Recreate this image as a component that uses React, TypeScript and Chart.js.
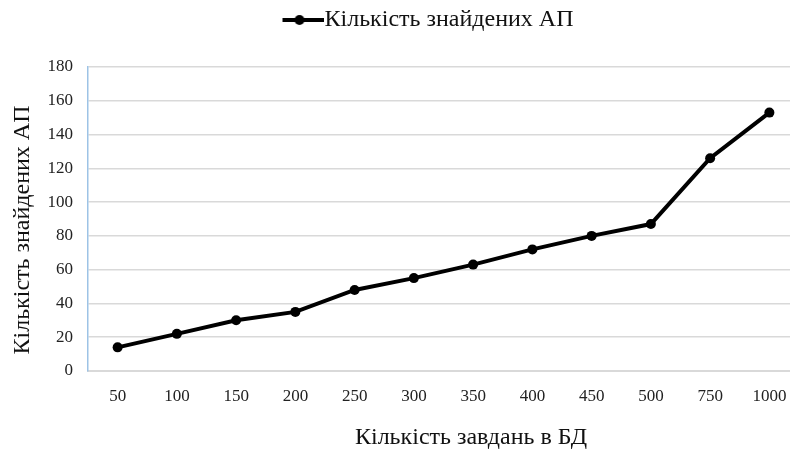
import React, { useEffect, useRef } from "react";
import { Chart, registerables } from "chart.js";

Chart.register(...registerables);

const categories = ["50", "100", "150", "200", "250", "300", "350", "400", "450", "500", "750", "1000"];
const foundValues = [14, 22, 30, 35, 48, 55, 63, 72, 80, 87, 126, 153];
const seriesLabel = "Кількість знайдених АП";
const xTitle = "Кількість завдань в БД";
const yTitle = "Кількість знайдених АП";

const FONT = "'Liberation Serif', 'Times New Roman', serif";

function makeLegendMarker(): HTMLCanvasElement {
  const c = document.createElement("canvas");
  const pad = 64;
  c.width = pad + 42;
  c.height = 12;
  const ctx = c.getContext("2d")!;
  ctx.strokeStyle = "#000";
  ctx.lineWidth = 4;
  ctx.beginPath();
  ctx.moveTo(pad, 6);
  ctx.lineTo(pad + 42, 6);
  ctx.stroke();
  ctx.fillStyle = "#000";
  ctx.beginPath();
  ctx.arc(pad + 17, 6, 5, 0, Math.PI * 2);
  ctx.fill();
  return c;
}

const layoutPlugin = {
  id: "layoutPlugin",
  beforeLayout(chart: any) {
    const lg = chart.legend;
    if (lg && !lg._patchedFit) {
      const orig = lg.fit.bind(lg);
      lg.fit = function () {
        orig();
        this.height = 67;
      };
      lg._patchedFit = true;
    }
  },
  afterDraw(chart: any) {
    const ctx = chart.ctx;
    ctx.save();
    ctx.font = `24px ${FONT}`;
    ctx.fillStyle = "#111";
    ctx.textAlign = "center";
    ctx.textBaseline = "middle";
    ctx.fillText(xTitle, 471, 438);
    ctx.translate(23, 230);
    ctx.rotate(-Math.PI / 2);
    ctx.fillText(yTitle, 0, 0);
    ctx.restore();
  },
};

export default function App() {
  const ref = useRef<HTMLCanvasElement>(null);
  useEffect(() => {
    const marker = makeLegendMarker();
    const chart = new Chart(ref.current!, {
      type: "line",
      data: {
        labels: categories,
        datasets: [
          {
            label: seriesLabel,
            data: foundValues,
            borderColor: "#000",
            backgroundColor: "#000",
            borderWidth: 4,
            pointRadius: 5,
            pointBackgroundColor: "#000",
            pointBorderWidth: 0,
            tension: 0,
          },
        ],
      },
      options: {
        responsive: false,
        animation: false,
        layout: { padding: { top: 0, left: 0, right: 0, bottom: 0 } },
        plugins: {
          legend: {
            position: "top",
            labels: {
              usePointStyle: true,
              pointStyle: marker as any,
              pointStyleWidth: 82,
              color: "#111",
              font: { family: FONT, size: 24 },
              padding: 8,
            },
          },
          tooltip: { enabled: false },
        },
        scales: {
          x: {
            offset: true,
            grid: { display: false, drawTicks: false, offset: true },
            border: { color: "#D9D9D9", width: 2 },
            ticks: { color: "#222", font: { family: FONT, size: 17 }, padding: 15, maxRotation: 0 },
            afterFit(scale: any) {
              scale.height = 81;
            },
          },
          y: {
            min: 0,
            max: 180,
            ticks: { stepSize: 20, color: "#222", font: { family: FONT, size: 17 }, padding: 15 },
            grid: { color: "#D9D9D9", lineWidth: 1.5, drawTicks: false },
            border: { color: "#9DC3E6", width: 1.5 },
            afterFit(scale: any) {
              scale.width = 88;
            },
          },
        },
      },
      plugins: [layoutPlugin],
    });
    return () => chart.destroy();
  }, []);
  return (
    <div style={{ position: "fixed", left: 0, top: 0, width: 790, height: 452, overflow: "hidden", background: "#fff" }}>
      <canvas ref={ref} width={804} height={452} style={{ display: "block" }} />
    </div>
  );
}
